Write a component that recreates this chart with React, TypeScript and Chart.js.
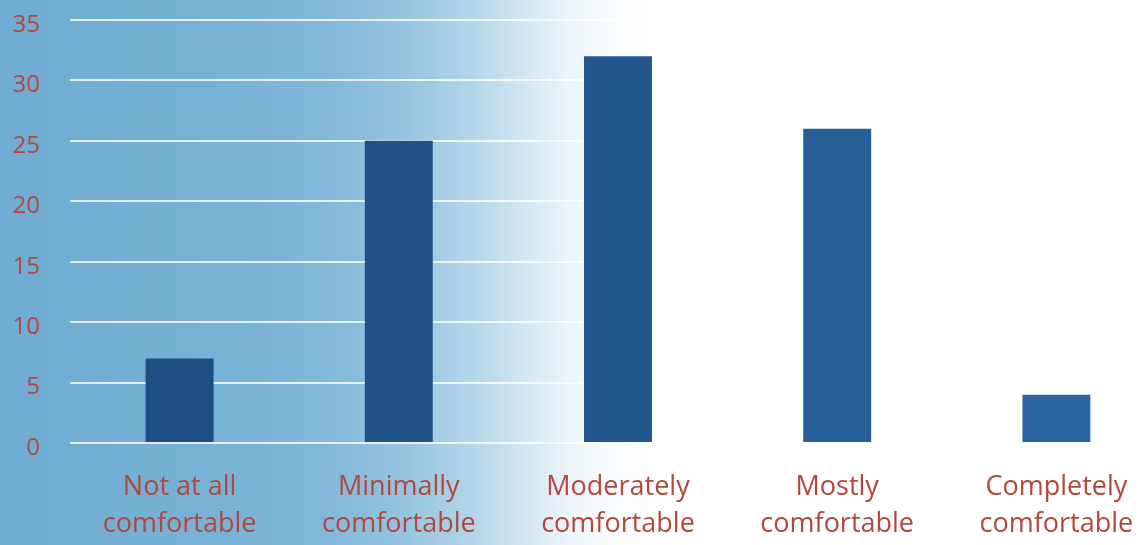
import React, { useEffect, useRef } from "react";
import { Chart, registerables } from "chart.js";

Chart.register(...registerables);

const categories: string[][] = [
  ["Not at all", "comfortable"],
  ["Minimally", "comfortable"],
  ["Moderately", "comfortable"],
  ["Mostly", "comfortable"],
  ["Completely", "comfortable"],
];
const responses: number[] = [7, 25, 32, 26, 4];
const barColors: string[] = ["#1e4f82", "#1f5287", "#22578f", "#285f98", "#2b64a0"];
const yMin = 0;
const yMax = 35;
const yStep = 5;

export default function App() {
  const ref = useRef<HTMLCanvasElement | null>(null);

  useEffect(() => {
    if (!ref.current) return;
    const labelColor = "#b4473c";
    const chart = new Chart(ref.current, {
      type: "bar",
      data: {
        labels: categories,
        datasets: [
          {
            data: responses,
            backgroundColor: barColors,
            borderWidth: 0,
            barPercentage: 0.31,
            categoryPercentage: 1,
          },
        ],
      },
      options: {
        animation: false,
        responsive: false,
        maintainAspectRatio: false,
        layout: { padding: { top: 20, right: 0, bottom: 0, left: 0 } },
        plugins: {
          legend: { display: false },
          tooltip: { enabled: false },
        },
        scales: {
          x: {
            grid: { display: false, drawTicks: false },
            border: { display: false },
            ticks: {
              color: labelColor,
              padding: 25,
              maxRotation: 0,
              autoSkip: false,
              font: { family: "'Open Sans', sans-serif", size: 27, lineHeight: 1.4 },
            },
            afterFit: (scale: any) => {
              scale.height = 102;
            },
          },
          y: {
            min: yMin,
            max: yMax,
            grid: {
              color: "rgba(255,255,255,0.8)",
              lineWidth: 2,
              drawTicks: false,
            },
            border: { display: false },
            ticks: {
              stepSize: yStep,
              color: labelColor,
              padding: 30,
              labelOffset: 5,
              font: { family: "'Open Sans', sans-serif", size: 24 },
            },
            afterFit: (scale: any) => {
              scale.width = 70;
              scale.paddingTop = 0;
              scale.paddingBottom = 0;
            },
          },
        },
      },
    });
    return () => chart.destroy();
  }, []);

  return (
    <div
      style={{
        position: "fixed",
        left: 0,
        top: 0,
        width: 1143,
        height: 545,
        overflow: "hidden",
        background:
          "linear-gradient(to right, #6fabd2 0%, #78b2d6 20%, #80b7d9 28%, #94c3df 35%, #b1d4e8 41%, #d3e7f2 46%, #edf5fa 50%, #fbfdfe 54%, #ffffff 58%, #ffffff 100%)",
      }}
    >
      <canvas ref={ref} width={1166} height={545} style={{ width: 1166, height: 545, display: "block" }} />
    </div>
  );
}
